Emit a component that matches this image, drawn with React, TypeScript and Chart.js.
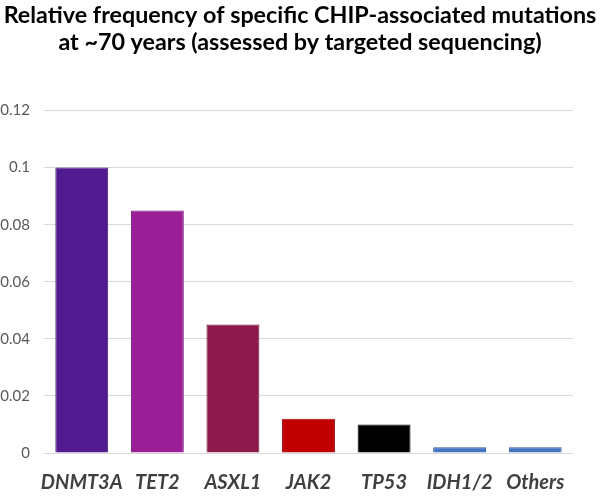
import React, { useEffect, useRef } from "react";
import { Chart, registerables } from "chart.js";

Chart.register(...registerables);

const titleLines = [
  "Relative frequency of specific CHIP-associated mutations",
  "at ~70 years (assessed by targeted sequencing)",
];
const categories = ["DNMT3A", "TET2", "ASXL1", "JAK2", "TP53", "IDH1/2", "Others"];
const values = [0.1, 0.085, 0.045, 0.012, 0.01, 0.002, 0.002];
const fillColors = ["#511A8F", "#9A1F96", "#8E1A4C", "#C00000", "#000000", "#4472C4", "#4472C4"];
const borderColors = ["#3A1170", "#7A167A", "#6A1238", "#A00000", "#000000", "#2F5597", "#2F5597"];
const yTicks = [0, 0.02, 0.04, 0.06, 0.08, 0.1, 0.12];

export default function App() {
  const ref = useRef<HTMLCanvasElement>(null);
  useEffect(() => {
    document.body.style.margin = "0";
    const chart = new Chart(ref.current!, {
      type: "bar",
      data: {
        labels: categories,
        datasets: [
          {
            data: values,
            backgroundColor: fillColors,
            borderColor: borderColors,
            borderWidth: 1,
            barPercentage: 0.7,
            categoryPercentage: 1,
          },
        ],
      },
      options: {
        animation: false,
        responsive: false,
        layout: { padding: 0 },
        plugins: {
          legend: { display: false },
          tooltip: { enabled: false },
          title: {
            display: true,
            text: titleLines,
            color: "#000000",
            font: { family: "Lato", size: 23.3, weight: "bold", lineHeight: 1.17 },
            padding: { top: 2, bottom: 54 },
          },
        },
        scales: {
          x: {
            afterFit: (axis: any) => {
              axis.height = 45;
            },
            grid: { display: false },
            border: { display: false },
            ticks: {
              color: "#404040",
              padding: 10,
              font: { family: "Lato", size: 20, style: "italic", weight: "bold" },
              maxRotation: 0,
              autoSkip: false,
            },
          },
          y: {
            min: 0,
            max: 0.12,
            afterBuildTicks: (axis: any) => {
              axis.ticks = yTicks.map((v) => ({ value: v }));
            },
            afterFit: (axis: any) => {
              axis.width = 44;
            },
            grid: { color: "#D9D9D9", drawTicks: false, lineWidth: 1 },
            border: { display: false },
            ticks: {
              color: "#595959",
              padding: 14,
              font: { family: "Lato", size: 15 },
              callback: (v: any) => String(+Number(v).toFixed(2)),
            },
          },
          yRightSpace: {
            type: "linear",
            position: "right",
            display: true,
            min: 0,
            max: 0.12,
            afterFit: (axis: any) => {
              axis.width = 27;
            },
            grid: { display: false },
            border: { display: false },
            ticks: { display: false },
          },
        },
      },
    });
    return () => chart.destroy();
  }, []);
  return (
    <div style={{ position: "absolute", left: 0, top: 0, width: 600, height: 498, background: "#fff" }}>
      <canvas ref={ref} width={600} height={498} />
    </div>
  );
}
